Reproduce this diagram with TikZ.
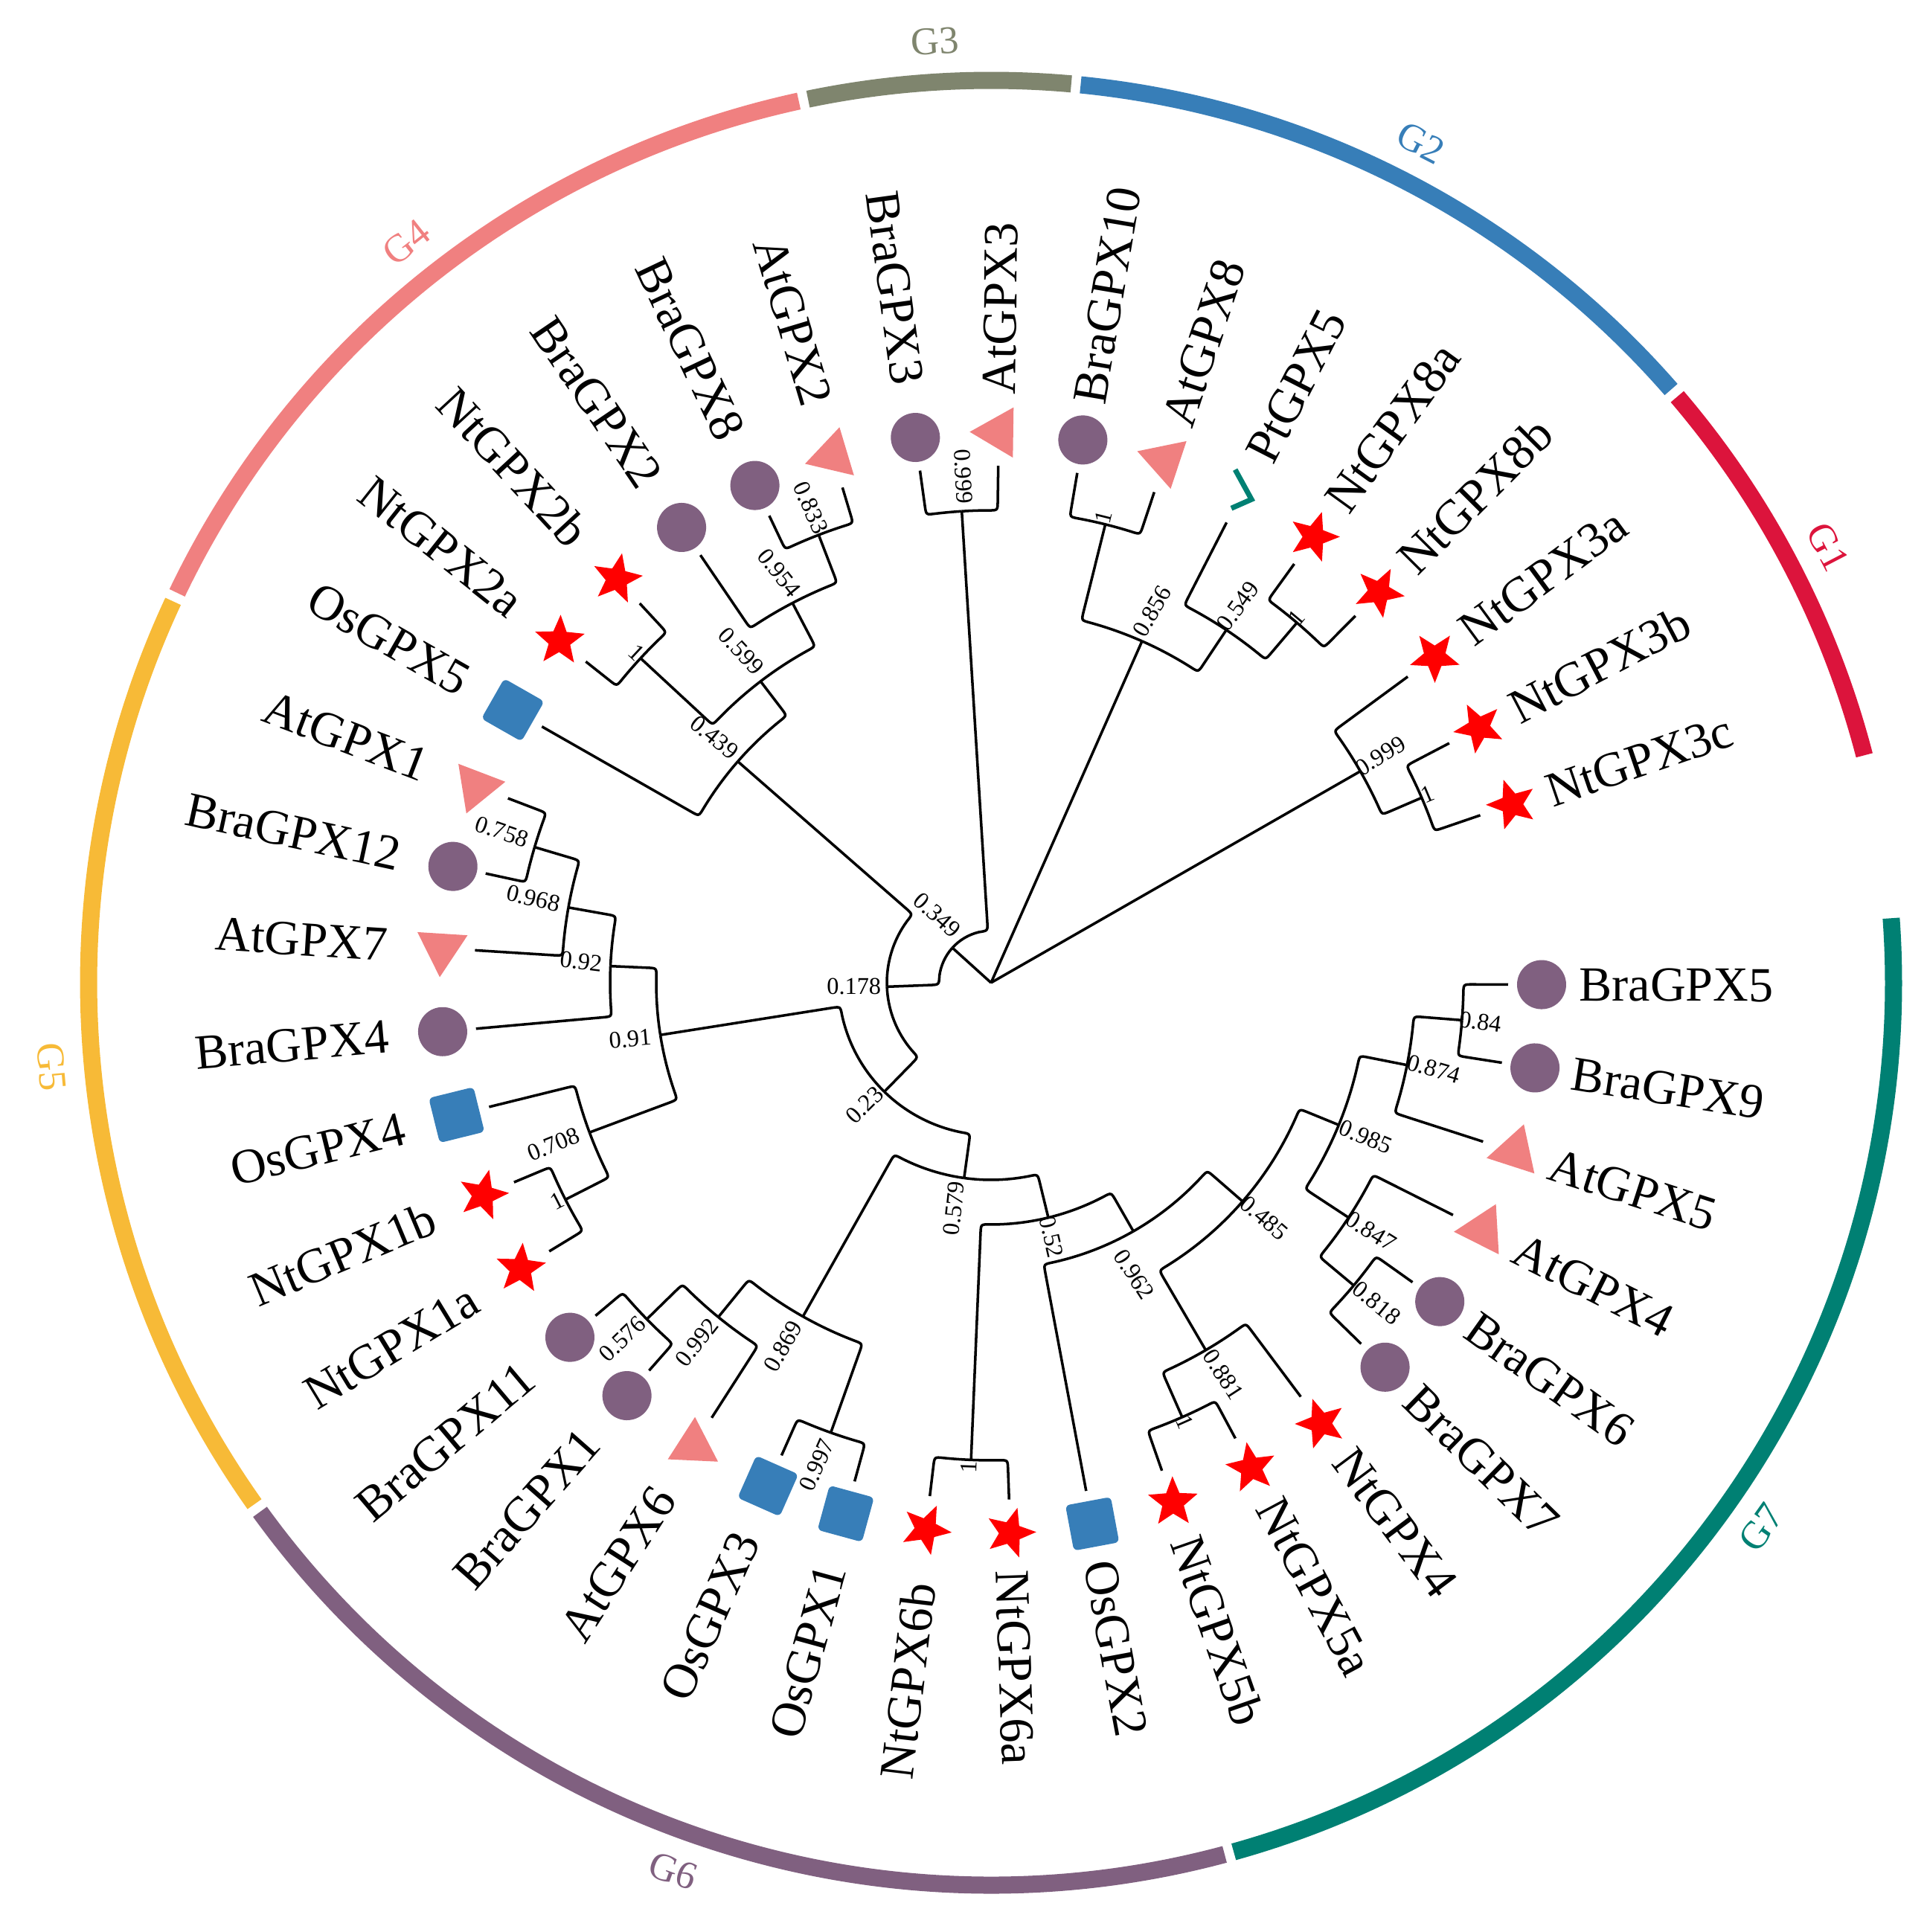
\documentclass[tikz,border=0pt]{standalone}
\usepackage{fontspec}
\setmainfont{Liberation Serif}
\usepackage{xcolor}
\definecolor{gpxred}{RGB}{220,20,60}
\definecolor{gpxblue}{RGB}{55,126,184}
\definecolor{gpxgray}{RGB}{127,133,110}
\definecolor{gpxsalmon}{RGB}{240,128,128}
\definecolor{gpxgold}{RGB}{247,186,55}
\definecolor{gpxplum}{RGB}{128,96,128}
\definecolor{gpxteal}{RGB}{0,128,115}
\definecolor{gpxstar}{RGB}{255,0,0}
\usetikzlibrary{shapes.geometric}

\begin{document}
\begin{tikzpicture}[
  branch/.style={black, line width=1pt},
  ring/.style={line width=0.23cm},
  leaflabel/.style={inner sep=0pt, font=\fontsize{18.8}{22}\selectfont},
  support/.style={inner sep=0pt, font=\fontsize{9.2}{11}\selectfont},
  grouplabel/.style={inner sep=0pt, font=\fontsize{15}{18}\selectfont},
  symbra/.style={circle, fill=gpxplum, minimum size=0.66cm, inner sep=0pt},
  symat/.style={regular polygon, regular polygon sides=3, fill=gpxsalmon, minimum size=0.78cm, inner sep=0pt},
  symnt/.style={star, star points=5, star point ratio=2.3, fill=gpxstar, minimum size=0.70cm, inner sep=0pt},
  symos/.style={rectangle, rounded corners=0.06cm, fill=gpxblue, minimum size=0.62cm, inner sep=0pt},
  sympt/.style={coordinate},
  ptmark/.style={gpxteal, line width=0.07cm}
]
  \useasboundingbox (0,0) rectangle (25.90,25.97);
  \begin{scope}[shift={(13.32,12.76)}]

  % Group ring
  \foreach \s/\e/\col in {14.6/40.5/gpxred, 41.1/84.3/gpxblue, 84.9/101.7/gpxgray,
      102.3/154.4/gpxsalmon, 155.0/215.3/gpxgold, 215.9/285.0/gpxplum, 285.6/364.1/gpxteal}
    \draw[ring, \col] (\s:12.13) arc[start angle=\s, end angle=\e, radius=12.13];

  % Group labels
  \foreach \nm/\a/\rot/\col in {G1/27.5/-62.5/gpxred, G2/62.9/-27.1/gpxblue, G3/93.4/3.4/gpxgray,
      G4/128.3/38.3/gpxsalmon, G5/185.1/-84.9/gpxgold, G6/250.3/-19.7/gpxplum, G7/324.7/54.7/gpxteal}
    \node[grouplabel, text=\col, rotate=\rot] (lab-\nm) at (\a:12.68) {\nm};

  % Leaves: tip, marker, name
  \foreach \a/\nm/\sym in {359.8/BraGPX5/symbra, 18.9/NtGPX3c/symnt, 27.6/NtGPX3b/symnt,
      36.3/NtGPX3a/symnt, 45.2/NtGPX8b/symnt, 54.1/NtGPX8a/symnt, 62.9/PtGPX5/sympt,
      71.6/AtGPX8/symat, 80.4/BraGPX10/symbra, 89.2/AtGPX3/symat, 97.9/BraGPX3/symbra,
      106.7/AtGPX2/symat, 115.4/BraGPX8/symbra, 124.2/BraGPX2/symbra, 132.8/NtGPX2b/symnt,
      141.6/NtGPX2a/symnt, 150.3/OsGPX5/symos, 159.1/AtGPX1/symat, 167.8/BraGPX12/symbra,
      176.4/AtGPX7/symat, 185.1/BraGPX4/symbra, 193.9/OsGPX4/symos, 202.7/NtGPX1b/symnt,
      211.3/NtGPX1a/symnt, 220.1/BraGPX11/symbra, 228.6/BraGPX1/symbra, 237.3/AtGPX6/symat,
      246.1/OsGPX3/symos, 254.7/OsGPX1/symos, 263.2/NtGPX6b/symnt, 272.0/NtGPX6a/symnt,
      280.6/OsGPX2/symos, 289.3/NtGPX5b/symnt, 298.2/NtGPX5a/symnt, 306.8/NtGPX4/symnt,
      315.7/BraGPX7/symbra, 324.6/BraGPX6/symbra, 333.3/AtGPX4/symat, 342.1/AtGPX5/symat,
      351.1/BraGPX9/symbra}{
    \coordinate (\nm) at (\a:6.95);
    \node[\sym, rotate=\a] (m-\nm) at (\a:7.40) {};
    \pgfmathsetmacro\flip{(\a>90)*(\a<270)}
    \ifdim\flip pt>0.5pt
      \node[leaflabel, anchor=east, rotate=\a-180] (n-\nm) at (\a:8.12) {\nm};
    \else
      \node[leaflabel, anchor=west, rotate=\a] (n-\nm) at (\a:7.90) {\nm};
    \fi
  }
  \draw[ptmark, shift={(m-PtGPX5)}, rotate=62.9] (0.235,0.221) -- (-0.021,-0.157) -- (-0.251,0.030);

  % Inner nodes
  \coordinate (root) at (0,0);
  \foreach \nm/\a/\rr in {n999b/29.8/5.72, n1c/23.25/6.30, n856/66.15/5.02, n1h/76.0/6.35,
      n549/56.3/5.70, n1g/49.65/6.35, n999a/93.55/6.35, nX/137.9/0.70, n178/182.2/1.40,
      n439/138.85/4.52, n599/127.4/5.10, n954/117.6/5.76, n833/111.05/6.45, n1f/137.2/6.42,
      n23/225.6/2.05, n91/188.98/4.50, n92/177.5/5.12, n968/169.9/5.77, n758/163.45/6.40,
      n708/200.45/5.76, n1e/207.0/6.42, n579/262.15/2.65, n869/240.6/5.15, n992/230.8/5.80,
      n576/224.35/6.47, n997/250.4/6.42, n52/283.7/3.25, n1d/267.6/6.42, n962/299.8/3.85,
      n485/319.0/4.48, n881/300.3/5.72, n1c5/293.75/6.38, n985/337.75/5.05, n847/326.7/5.75,
      n818/320.15/6.35, n874/348.8/5.70, n84/355.45/6.35}
    \coordinate (\nm) at (\a:\rr);

  % Branches
  \draw[branch] (root) -- (n999b);
  \draw[branch] (root) -- (n856);
  \draw[branch] (root) -- (nX);
  \foreach \up/\pa/\pr/\ca/\kid in {
      n999b/29.8/5.72/36.3/NtGPX3a, n999b/29.8/5.72/23.25/n1c,
      n1c/23.25/6.30/27.6/NtGPX3b, n1c/23.25/6.30/18.9/NtGPX3c,
      n856/66.15/5.02/76.0/n1h, n856/66.15/5.02/56.3/n549,
      n1h/76.0/6.35/80.4/BraGPX10, n1h/76.0/6.35/71.6/AtGPX8,
      n549/56.3/5.70/62.9/PtGPX5, n549/56.3/5.70/49.65/n1g,
      n1g/49.65/6.35/54.1/NtGPX8a, n1g/49.65/6.35/45.2/NtGPX8b,
      n999a/93.55/6.35/97.9/BraGPX3, n999a/93.55/6.35/89.2/AtGPX3,
      nX/137.9/0.70/93.55/n999a, nX/137.9/0.70/182.2/n178,
      n178/182.2/1.40/138.85/n439, n178/182.2/1.40/225.6/n23,
      n439/138.85/4.52/127.4/n599, n439/138.85/4.52/150.3/OsGPX5,
      n599/127.4/5.10/117.6/n954, n599/127.4/5.10/137.2/n1f,
      n954/117.6/5.76/111.05/n833, n954/117.6/5.76/124.2/BraGPX2,
      n833/111.05/6.45/106.7/AtGPX2, n833/111.05/6.45/115.4/BraGPX8,
      n1f/137.2/6.42/132.8/NtGPX2b, n1f/137.2/6.42/141.6/NtGPX2a,
      n23/225.6/2.05/188.98/n91, n23/225.6/2.05/262.15/n579,
      n91/188.98/4.50/177.5/n92, n91/188.98/4.50/200.45/n708,
      n92/177.5/5.12/169.9/n968, n92/177.5/5.12/185.1/BraGPX4,
      n968/169.9/5.77/163.45/n758, n968/169.9/5.77/176.4/AtGPX7,
      n758/163.45/6.40/159.1/AtGPX1, n758/163.45/6.40/167.8/BraGPX12,
      n708/200.45/5.76/193.9/OsGPX4, n708/200.45/5.76/207.0/n1e,
      n1e/207.0/6.42/202.7/NtGPX1b, n1e/207.0/6.42/211.3/NtGPX1a,
      n579/262.15/2.65/240.6/n869, n579/262.15/2.65/283.7/n52,
      n869/240.6/5.15/230.8/n992, n869/240.6/5.15/250.4/n997,
      n992/230.8/5.80/224.35/n576, n992/230.8/5.80/237.3/AtGPX6,
      n576/224.35/6.47/220.1/BraGPX11, n576/224.35/6.47/228.6/BraGPX1,
      n997/250.4/6.42/246.1/OsGPX3, n997/250.4/6.42/254.7/OsGPX1,
      n52/283.7/3.25/267.6/n1d, n52/283.7/3.25/299.8/n962,
      n1d/267.6/6.42/263.2/NtGPX6b, n1d/267.6/6.42/272.0/NtGPX6a,
      n962/299.8/3.85/280.6/OsGPX2, n962/299.8/3.85/319.0/n485,
      n485/319.0/4.48/300.3/n881, n485/319.0/4.48/337.75/n985,
      n881/300.3/5.72/293.75/n1c5, n881/300.3/5.72/306.8/NtGPX4,
      n1c5/293.75/6.38/289.3/NtGPX5b, n1c5/293.75/6.38/298.2/NtGPX5a,
      n985/337.75/5.05/326.7/n847, n985/337.75/5.05/348.8/n874,
      n847/326.7/5.75/320.15/n818, n847/326.7/5.75/333.3/AtGPX4,
      n818/320.15/6.35/315.7/BraGPX7, n818/320.15/6.35/324.6/BraGPX6,
      n874/348.8/5.70/342.1/AtGPX5, n874/348.8/5.70/355.45/n84,
      n84/355.45/6.35/351.1/BraGPX9, n84/355.45/6.35/359.8/BraGPX5}{
    \pgfmathsetmacro\bend{\pa<\ca ? \ca-7/\pr : \ca+7/\pr}
    \draw[branch] (\up) arc[start angle=\pa, end angle=\bend, radius=\pr]
      .. controls (\ca:\pr) .. ({\ca}:{\pr+0.12}) -- (\kid);
  }

  % Support values
  \foreach \nm/\x/\y/\rot/\txt in {
      b833/-2.422/6.382/-66/0.833, b954/-2.846/5.512/-51/0.954, b599/-3.360/4.457/-47/0.599,
      b439/-3.717/3.298/-39/0.439, b1f/-4.766/4.442/-43/1, b758/-6.574/2.030/-19/0.758,
      b968/-6.150/1.135/-13/0.968, b92/-5.511/0.289/-7/0.92, b349/-0.726/0.911/-42/0.349,
      b999a/-0.369/6.805/-87/0.999, b91/-4.850/-0.755/5/0.91, b708/-5.881/-2.174/22/0.708,
      b1e/-5.833/-2.935/27/1, b576/-4.954/-4.785/44/0.576, b992/-3.957/-4.836/52/0.992,
      b869/-2.793/-4.887/60/0.869, b997/-2.341/-6.484/66/0.997, b579/-0.498/-3.036/84/0.579,
      b23/-1.700/-1.642/45/0.23, b178/-1.843/-0.045/0/0.178, b52/0.815/-3.416/-77/0.52,
      b962/1.925/-3.923/-57/0.962, b485/3.671/-3.163/-41/0.485, b881/3.122/-5.267/-57/0.881,
      b1c5/2.610/-5.901/-66/1, b985/5.035/-2.073/-23/0.985, b874/5.951/-1.160/-16/0.874,
      b84/6.581/-0.527/-8/0.84, b847/5.105/-3.340/-32/0.847, b818/5.180/-4.304/-39/0.818,
      b1d/-0.300/-6.509/88/1, b856/2.166/4.989/60/0.856, b549/3.317/5.064/54/0.549,
      b1g/4.108/4.905/50/1, b1h/1.507/6.258/76/1, b999b/5.233/3.050/32/0.999,
      b1c/5.867/2.537/23/1}
    \node[support, rotate=\rot] (\nm) at (\x,\y) {\txt};

  \end{scope}
\end{tikzpicture}
\end{document}
